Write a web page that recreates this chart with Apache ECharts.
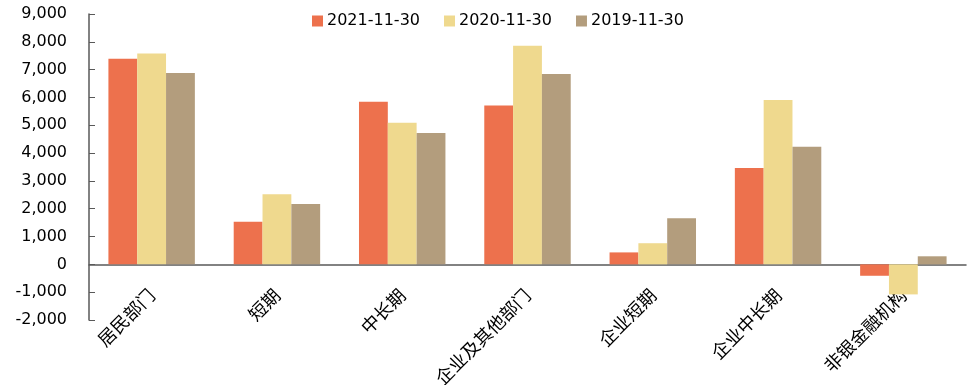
<!DOCTYPE html>
<html>
<head>
<meta charset="utf-8">
<script src="https://cdn.jsdelivr.net/npm/echarts@6/dist/echarts.min.js"></script>
<style>
  html, body { margin: 0; padding: 0; background: #fff; }
  #chart { width: 975px; height: 385px; }
</style>
</head>
<body>
<div id="chart"></div>
<script>
// categories and series
const categories = ['居民部门', '短期', '中长期', '企业及其他部门', '企业短期', '企业中长期', '非银金融机构'];
const seriesNames = ['2021-11-30', '2020-11-30', '2019-11-30'];
const values2021 = [7390, 1530, 5850, 5710, 430, 3460, -410];
const values2020 = [7580, 2520, 5090, 7860, 760, 5910, -1080];
const values2019 = [6880, 2170, 4720, 6840, 1660, 4230, 290];
const colors = ['#ED714D', '#EFD98E', '#B39D7D'];

const axisColor = '#595959';
const chart = echarts.init(document.getElementById('chart'));

chart.setOption({
    animation: false,
    backgroundColor: '#fff',
    color: colors,
    legend: {
        top: 8,
        left: 307,
        itemWidth: 11,
        itemHeight: 11,
        itemGap: 24,
        icon: 'rect',
        textStyle: { fontFamily: 'DejaVu Sans', fontSize: 16, color: '#000', padding: [0, 0, 0, -1] }
    },
    grid: { left: 89, right: 9, top: 14, bottom: 65, outerBoundsMode: 'none', containLabel: false },
    xAxis: {
        type: 'category',
        data: categories,
        axisLine: { onZero: true, lineStyle: { color: axisColor, width: 1.5 } },
        axisTick: { inside: true, length: 5, lineStyle: { color: axisColor } },
        axisLabel: {
            interval: 0,
            rotate: 45,
            margin: -28,
            fontFamily: 'Noto Sans CJK SC',
            fontSize: 18,
            color: '#000'
        }
    },
    yAxis: {
        type: 'value',
        min: -2000,
        max: 9000,
        interval: 1000,
        axisLine: { show: true, lineStyle: { color: axisColor, width: 1.5 } },
        axisTick: { show: true, inside: true, length: 6, lineStyle: { color: axisColor } },
        splitLine: { show: false },
        axisLabel: {
            margin: 22,
            fontFamily: 'DejaVu Sans',
            fontSize: 16,
            color: '#000',
            formatter: v => v.toLocaleString('en-US')
        }
    },
    series: [values2021, values2020, values2019].map((d, i) => ({
        name: seriesNames[i],
        type: 'bar',
        data: d,
        barGap: '0%',
        barCategoryGap: '31%'
    }))
});
</script>
</body>
</html>
